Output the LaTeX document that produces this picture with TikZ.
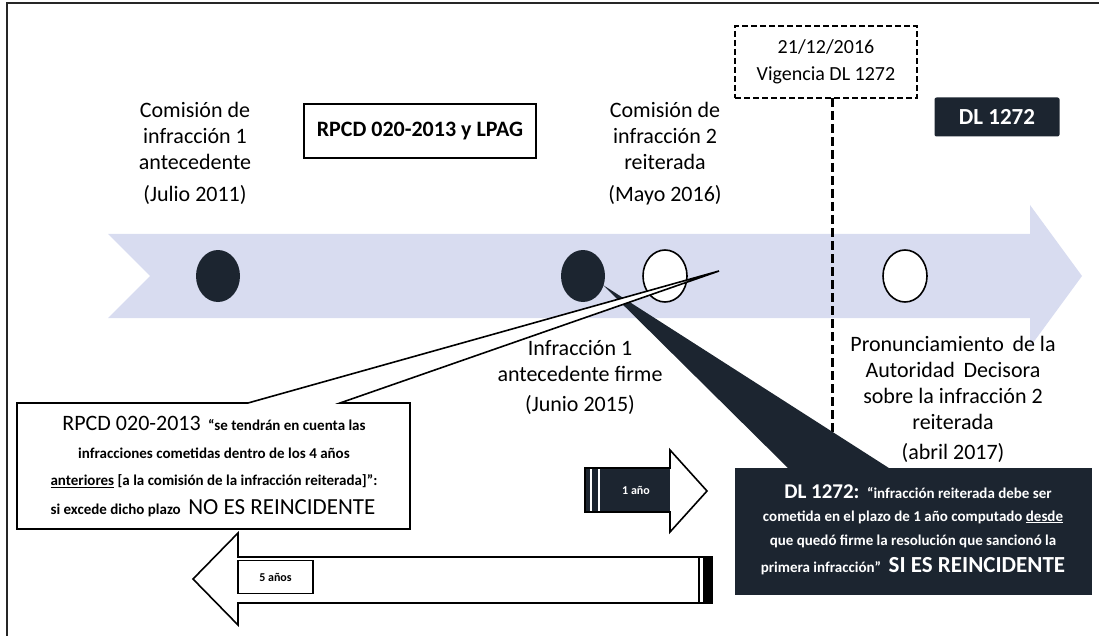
\documentclass[tikz,border=0pt]{standalone}
\usepackage{fontspec}
\setmainfont{Carlito}
\usetikzlibrary{shapes.geometric}
\definecolor{navy}{RGB}{28,37,48}
\definecolor{bandc}{RGB}{216,220,240}
\begin{document}
\begin{tikzpicture}[x=1pt,y=-1pt,
  lbl/.style={align=center, inner sep=0pt, font=\fontsize{22}{26}\selectfont},
  dotd/.style={ellipse, minimum width=44pt, minimum height=52pt, inner sep=0pt, fill=navy},
  doto/.style={ellipse, minimum width=44pt, minimum height=52pt, inner sep=0pt, fill=white, draw=black, line width=1.6pt},
  txt/.style={inner sep=0pt, font=\bfseries\fontsize{15}{17}\selectfont},
  wtxt/.style={txt, text=white},
  outl/.style={draw=black, line width=1.6pt, fill=white},
]
\useasboundingbox (0,0) rectangle (1099,636);
% frame
\draw[line width=1.5pt, black!85] (7,636) -- (7,3) -- (1099,3);
% timeline band
\fill[bandc] (108,234) -- (1030,234) -- (1030,205) -- (1082,276) -- (1030,347) -- (1030,318) -- (108,318) -- (150,276) -- cycle;

% top labels
\node[lbl] (la) at (195,136) {Comisión de\\infracción 1\\antecedente};
\node[lbl] (lad) at (195,195) {(Julio 2011)};
\node[draw=black, line width=1.6pt, minimum width=232pt, minimum height=54pt, inner sep=0pt,
      font=\bfseries\fontsize{22}{24}\selectfont] (rpcd) at (420,131) {RPCD 020-2013 y LPAG};
\node[lbl] (lb) at (665,136) {Comisión de\\infracción 2\\reiterada};
\node[lbl] (lbd) at (665,195) {(Mayo 2016)};
\node[draw=black, line width=1.6pt, dash pattern=on 6pt off 3pt, minimum width=182pt, minimum height=72pt,
      inner sep=0pt, align=center, font=\fontsize{20}{27}\selectfont] (vig) at (826,62) {21/12/2016\\Vigencia DL 1272};
\node[fill=navy, text=white, rounded corners=2pt, minimum width=125pt, minimum height=39pt, inner sep=0pt,
      font=\bfseries\fontsize{23}{24}\selectfont] (dl) at (997,117) {DL 1272};

% vertical dashed line
\coordinate (vtop) at (832,98);
\coordinate (vbot) at (832,480);
\draw[line width=3pt, dash pattern=on 9pt off 4pt] (vtop) -- (vbot);

% circles
\node[dotd] (c1) at (218,276) {};
\node[dotd] (c2) at (583,276) {};
\node[doto] (c3) at (665,276) {};
\node[doto] (c4) at (905,276) {};

% lower labels
\node[lbl] (lc) at (580,361) {Infracción 1\\antecedente firme};
\node[lbl] (lcd) at (580,405) {(Junio 2015)};
\node[lbl] (ld) at (953,383) {Pronunciamiento\, de la\\Autoridad\, Decisora\\sobre la infracción 2\\reiterada};
\node[lbl] (ldd) at (953,453) {(abril 2017)};

% dark callout (DL 1272)
\fill[navy] (603,285) -- (892,470) -- (790,470) -- cycle;
\node[fill=navy, minimum width=357pt, minimum height=127pt, inner sep=0pt] (dlbox) at (913.5,531.5) {};
\node[wtxt] (d1) at (918,492) {{\fontsize{21}{22}\selectfont DL 1272:}\enspace “infracción reiterada debe ser};
\node[wtxt] (d2) at (913,517) {cometida en el plazo de 1 año computado \underline{desde}};
\node[wtxt] (d3) at (913,541) {que quedó firme la resolución que sancionó la};
\node[wtxt] (d4) at (913,566) {primera infracción”\enspace{\fontsize{23}{24}\selectfont SI ES REINCIDENTE}};

% white callout (RPCD)
\draw[outl] (17,403) -- (248,403) -- (719,271) -- (340,403) -- (410,403) -- (410,529) -- (17,529) -- cycle;
\node[txt] (w1) at (214,423) {{\mdseries\fontsize{22}{24}\selectfont RPCD 020-2013}\enspace “se tendrán en cuenta las};
\node[txt] (w2) at (214,453) {infracciones cometidas dentro de los 4 años};
\node[txt] (w3) at (214,481) {\underline{anteriores} [a la comisión de la infracción reiterada]”:};
\node[txt] (w4) at (213,508) {si excede dicho plazo\enspace{\mdseries\fontsize{23}{24}\selectfont NO ES REINCIDENTE}};

% 1 año arrow
\draw[outl] (585,468) -- (670,468) -- (670,450) -- (707,491) -- (670,532) -- (670,512) -- (585,512) -- cycle;
\fill[navy] (585,468) rectangle (670,512);
\draw[white, line width=2pt] (591,468) -- (591,512);
\draw[white, line width=2pt] (599,468) -- (599,512);
\draw[black, line width=1.6pt] (585,468) -- (670,468) (585,512) -- (670,512) (585,468) -- (585,512);
\node[wtxt, font=\bfseries\fontsize{12}{14}\selectfont] (one) at (636,490) {1 año};

% 5 años arrow
\draw[outl] (712,557) -- (238,557) -- (238,533) -- (193,579) -- (238,625) -- (238,603) -- (712,603) -- cycle;
\fill[black] (703,557) rectangle (712,603);
\draw[black, line width=1.4pt] (699,557) -- (699,603);
\node[draw=black, line width=1.4pt, minimum width=75pt, minimum height=33pt, inner sep=0pt,
      font=\bfseries\fontsize{12}{14}\selectfont] (five) at (275.5,577) {5 años};
\end{tikzpicture}
\end{document}
